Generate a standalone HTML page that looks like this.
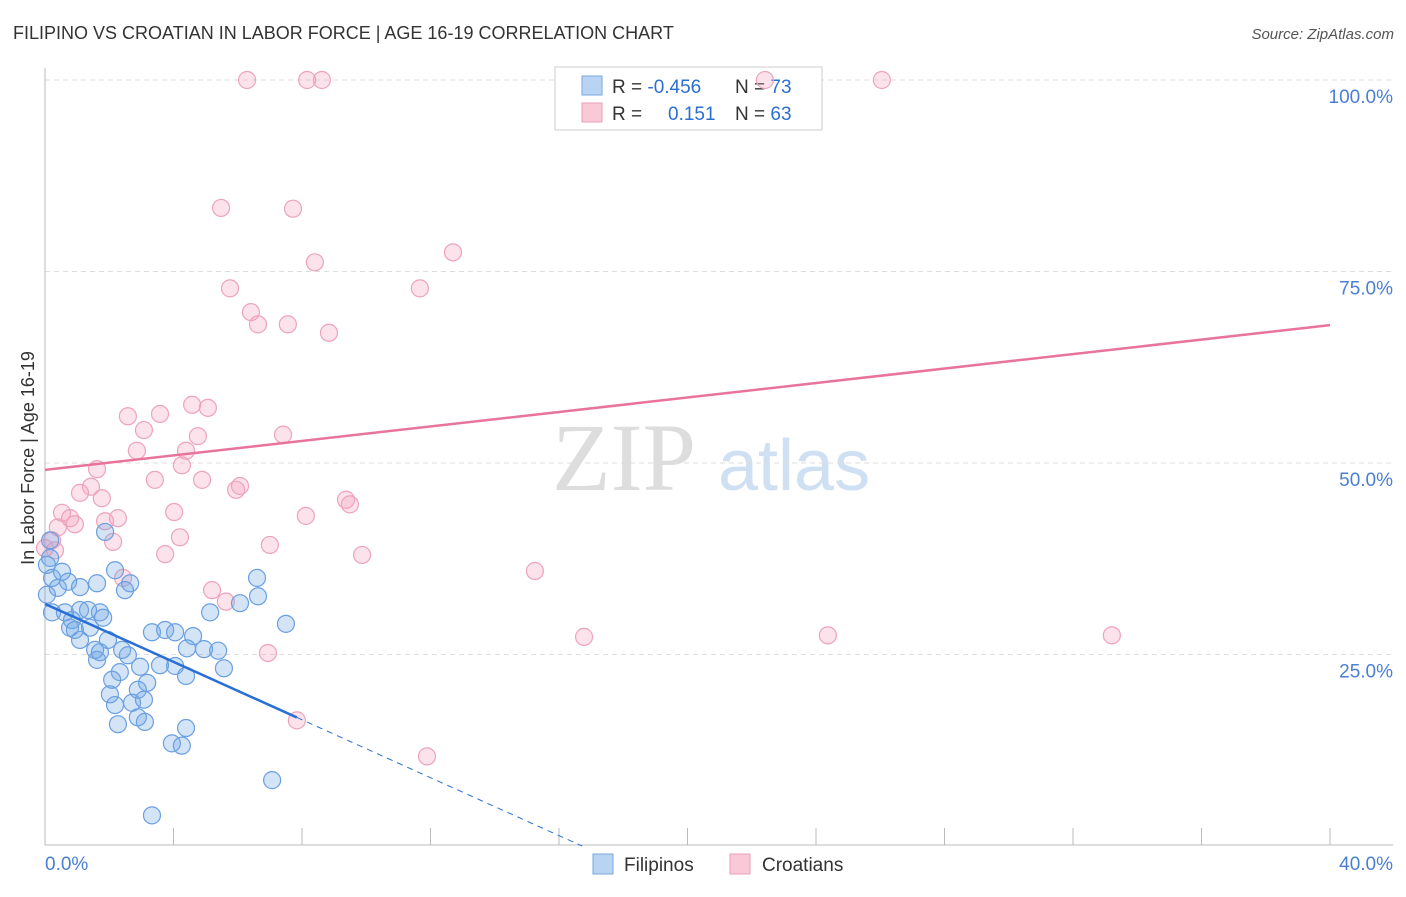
<!DOCTYPE html>
<html><head><meta charset="utf-8"><style>
body{margin:0;background:#fff;font-family:"Liberation Sans",sans-serif}
</style></head><body>
<svg id="chart" width="1406" height="892" xmlns="http://www.w3.org/2000/svg" font-family="Liberation Sans, sans-serif">
<text x="13" y="39" font-size="18" fill="#333">FILIPINO VS CROATIAN IN LABOR FORCE | AGE 16-19 CORRELATION CHART</text>
<text x="1394" y="39" font-size="15" font-style="italic" fill="#555" text-anchor="end">Source: ZipAtlas.com</text>
<g>
<text x="552" y="490" font-size="96" font-family="Liberation Serif, serif" fill="#ddd">ZIP</text>
<text x="718" y="490" font-size="72" fill="#cfe0f3">atlas</text>
</g>
<g id="grid"></g><g id="axes"></g>
<g>
<rect x="555" y="67" width="267" height="63" fill="#fff" stroke="#ccc"/>
<rect x="582" y="76" width="20" height="19" fill="#b9d3f3" stroke="#7aa7e0"/>
<rect x="582" y="103" width="20" height="19" fill="#f9c9d7" stroke="#eba0b8"/>
<text x="612" y="93" font-size="19" fill="#333">R = <tspan fill="#2c6fd1">-0.456</tspan><tspan x="735">N = </tspan><tspan fill="#2c6fd1">73</tspan></text>
<text x="612" y="120" font-size="19" fill="#333">R = <tspan fill="#2c6fd1" x="668">0.151</tspan><tspan x="735">N = </tspan><tspan fill="#2c6fd1">63</tspan></text>
</g>
<g id="pts"></g><g id="lines"></g>
<text transform="translate(34,458) rotate(-90)" font-size="18" fill="#333" text-anchor="middle">In Labor Force | Age 16-19</text>
<g>
<rect x="593" y="854" width="20" height="20" fill="#b9d3f3" stroke="#7aa7e0"/>
<text x="624" y="871" font-size="19" fill="#333">Filipinos</text>
<rect x="730" y="854" width="20" height="20" fill="#f9c9d7" stroke="#eba0b8"/>
<text x="762" y="871" font-size="19" fill="#333">Croatians</text>
</g>
</svg>
<script>
const yTicks=[25,50,75,100];
const yTickLabels=["25.0%","50.0%","75.0%","100.0%"];
const xTicks=[0,4,8,12,16,20,24,28,32,36,40];
const filX=[0.16,0.06,0.22,0.53,0.40,0.72,1.09,1.62,2.18,2.65,2.49,0.22,0.62,0.84,0.78,1.09,1.34,1.71,1.81,1.40,0.93,1.09,1.56,1.62,1.71,1.96,2.40,2.58,2.33,2.09,2.02,2.96,3.18,2.89,2.18,2.71,3.08,2.89,2.27,3.11,3.33,3.74,4.05,4.61,4.42,4.95,5.39,4.05,3.58,4.39,5.57,5.14,6.07,6.63,6.60,7.50,3.95,4.26,4.39,7.07,3.33,1.87,0.16,0.06];
const filY=[37.6,36.7,35.0,35.8,33.7,34.5,33.8,34.3,36.0,34.3,33.4,30.5,30.5,29.5,28.5,30.8,30.8,30.5,29.8,28.5,28.2,26.9,25.6,24.3,25.3,26.9,25.6,24.9,22.7,21.7,19.8,23.4,21.3,20.4,18.4,18.7,19.1,16.8,15.9,16.2,27.9,28.2,27.9,27.4,25.8,25.7,25.5,23.5,23.6,22.2,23.2,30.5,31.7,32.6,35.0,29.0,13.4,13.1,15.4,8.6,4.0,41.0,39.9,32.8];
const croX=[6.29,8.16,8.62,22.41,26.05,5.48,7.72,12.70,8.40,5.76,11.67,6.41,6.63,7.56,8.84,2.58,3.58,4.58,5.07,3.08,4.76,7.41,2.86,4.39,4.26,1.62,3.42,4.89,1.43,1.09,1.77,5.95,6.07,9.37,9.49,0.53,0.78,2.27,4.02,8.12,0.40,0.93,1.87,4.20,2.12,0.22,7.00,3.74,9.87,15.25,2.43,5.20,5.63,16.78,24.37,33.21,6.94,7.84,11.89,0.31,0.0];
const croY=[100,100,100,100,100,83.3,83.2,77.5,76.2,72.8,72.8,69.7,68.1,68.1,67.0,56.1,56.4,57.6,57.2,54.3,53.5,53.7,51.6,51.6,49.7,49.2,47.8,47.8,46.9,46.1,45.4,46.5,47.0,45.2,44.6,43.5,42.8,42.8,43.6,43.1,41.6,42.0,42.4,40.3,39.7,39.9,39.3,38.1,38.0,35.9,35.0,33.4,31.9,27.3,27.5,27.5,25.2,16.4,11.7,38.6,38.9];
const filLine=[31.6,-1.89]; // intercept, slope
const croLine=[49.1,0.4725];
const NS="http://www.w3.org/2000/svg";
const X=v=>45+v*32.125, Y=v=>846-v*7.66;
function mk(t,a,p){const e=document.createElementNS(NS,t);for(const k in a)e.setAttribute(k,a[k]);document.getElementById(p).appendChild(e);return e;}
yTicks.forEach((t,i)=>{
 const g=mk('line',{x1:45,x2:1393,y1:Y(t),y2:Y(t),stroke:'#ddd','stroke-dasharray':'5,4'},'grid');
 
 
 const l=mk('text',{x:1393,y:Y(t)+23,'text-anchor':'end','font-size':19,fill:'#4a7fd4'},'grid');
 l.textContent=yTickLabels[i];
 
 
});
const ax=mk('line',{x1:45,x2:1393,y1:845,y2:845,stroke:'#bbb'},'axes');


const ay=mk('line',{x1:45,x2:45,y1:68,y2:845,stroke:'#bbb'},'axes');


xTicks.forEach(t=>{const e=mk('line',{x1:X(t),x2:X(t),y1:828,y2:845,stroke:'#bbb'},'axes');
 
 });
const x0=mk('text',{x:45,y:870,'font-size':19,fill:'#4a7fd4'},'axes');x0.textContent='0.0%';


const x1=mk('text',{x:1393,y:870,'font-size':19,fill:'#4a7fd4','text-anchor':'end'},'axes');x1.textContent='40.0%';


croX.forEach((v,i)=>{const c=mk('circle',{cx:X(v),cy:Y(croY[i]),r:8.5,fill:'rgba(244,160,188,0.3)',stroke:'#eda3bb','stroke-width':1.2},'pts');
 
 });
filX.forEach((v,i)=>{const c=mk('circle',{cx:X(v),cy:Y(filY[i]),r:8.5,fill:'rgba(110,165,230,0.3)',stroke:'#6a9fe0','stroke-width':1.2},'pts');
 
 });
const fEnd=-filLine[0]/filLine[1];
const l1=mk('line',{x1:X(0),y1:Y(filLine[0]),x2:X(7.84),y2:Y(filLine[0]+filLine[1]*7.84),stroke:'#2a6fd6','stroke-width':2.5},'lines');


const l2=mk('line',{x1:X(7.84),y1:Y(filLine[0]+filLine[1]*7.84),x2:X(fEnd),y2:Y(0),stroke:'#2a6fd6','stroke-width':1,'stroke-dasharray':'6,5'},'lines');


const l3=mk('line',{x1:X(0),y1:Y(croLine[0]),x2:X(40),y2:Y(croLine[0]+croLine[1]*40),stroke:'#e8739b','stroke-width':2.5},'lines');


</script>
</body></html>
